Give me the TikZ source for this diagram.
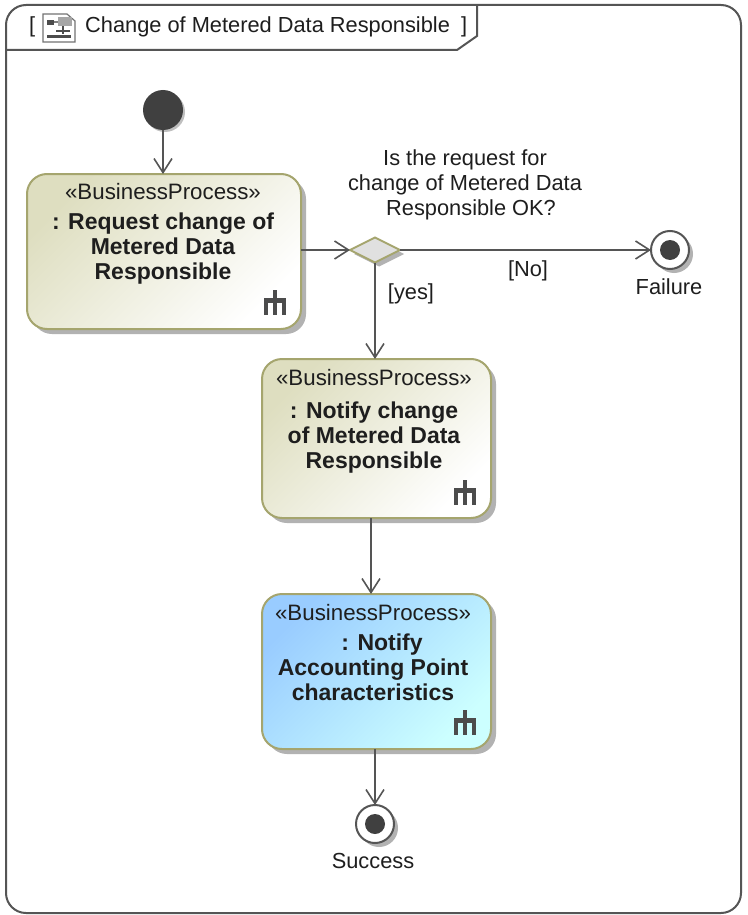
\documentclass[tikz,border=0pt]{standalone}
\usepackage{fontspec}
\setmainfont{Liberation Sans}
\usetikzlibrary{positioning, arrows.meta, shapes.geometric, shadows}

\definecolor{lineGray}{HTML}{555555}
\definecolor{olive}{HTML}{A5A56E}
\definecolor{textDark}{HTML}{1E1E1E}
\definecolor{tanDark}{HTML}{DEDEC0}
\definecolor{blueDark}{HTML}{99CCFF}
\definecolor{blueLight}{HTML}{CCFFFF}

\newcommand{\stereo}[1]{{\fontsize{22.3}{25}\selectfont #1}}
\newcommand{\actname}[1]{{\fontsize{23}{25}\selectfont\bfseries #1}}

\begin{document}
\begin{tikzpicture}[x=1pt,y=-1pt]
  \tikzset{ActionStyle/.style = {
    shape         = rectangle,
    rounded corners = 20pt,
    draw          = olive,
    line width    = 2pt,
    minimum width = 229pt,
    inner sep     = 0pt,
    outer sep     = 0pt,
    general shadow = {fill=black!30, shadow xshift=5pt, shadow yshift=-5pt}
    }
  }
  \tikzset{TanStyle/.style = {
    ActionStyle,
    left color    = tanDark,
    right color   = white,
    shading angle = 45
    }
  }
  \tikzset{BlueStyle/.style = {
    ActionStyle,
    left color    = blueDark,
    right color   = blueLight,
    shading angle = 45
    }
  }
  \tikzset{ActionText/.style = {
    anchor        = north,
    align         = center,
    inner sep     = 0pt,
    text          = textDark,
    font          = \fontsize{22}{25}\selectfont
    }
  }
  \tikzset{LabelStyle/.style = {
    inner sep     = 0pt,
    align         = center,
    text          = textDark,
    font          = \fontsize{21.8}{25}\selectfont
    }
  }
  \tikzset{EdgeStyle/.style = {
    draw          = lineGray,
    line width    = 2pt,
    -{Straight Barb[length=14pt,width=18pt,line width=1.6pt]}
    }
  }
  \tikzset{FinalStyle/.style = {
    shape         = circle,
    draw          = lineGray,
    fill          = white,
    line width    = 2pt,
    minimum size  = 38pt,
    inner sep     = 0pt,
    outer sep     = 0pt,
    general shadow = {fill=black!30, shadow xshift=4pt, shadow yshift=-4pt}
    }
  }
  \tikzset{DotStyle/.style = {
    shape         = circle,
    fill          = black!75,
    minimum size  = 20pt,
    inner sep     = 0pt
    }
  }
  \tikzset{rake/.pic = {
    \fill[black!70] (-2,-12) rectangle (2,13);
    \fill[black!70] (-11,-4) rectangle (11,1);
    \fill[black!70] (-11,-4) rectangle (-7,13);
    \fill[black!70] (7,-4) rectangle (11,13);
    }
  }

  \useasboundingbox (0,0) rectangle (747,915);
  \fill[white] (0,0) rectangle (747,915);

  % frame and name tab
  \draw[draw=lineGray, line width=2pt, rounded corners=20pt] (6,913) -- (6,5) -- (741,5) -- (741,913) -- cycle;
  \draw[draw=lineGray, line width=2pt] (6,50) -- (457,50) -- (477,36) -- (477,5);
  \node[LabelStyle, anchor=west](Br1) at (29,27) {[};
  \node[LabelStyle, anchor=west](Title) at (85,27) {Change of Metered Data Responsible};
  \node[LabelStyle, anchor=west](Br2) at (461,27) {]};

  % activity icon of the tab
  \draw[draw=black!55, fill=white, line width=1.2pt] (43,14) -- (67,14) -- (75,21) -- (75,42) -- (43,42) -- cycle;
  \fill[black!70] (47,20) rectangle (54,25);
  \fill[black!50] (54,21.5) rectangle (58,23.5);
  \fill[black!35] (58,17) rectangle (72,26);
  \fill[black!70] (62,26) rectangle (64,34);
  \fill[black!70] (56,30) rectangle (70,32);
  \fill[black!70] (47,35) rectangle (71,38);

  \node[shape=circle, fill=black!75, minimum size=40pt, inner sep=0pt, general shadow={fill=black!25, shadow xshift=2pt, shadow yshift=-2pt}](I1) at (163,110) {};

  \node[TanStyle, minimum width=274pt, minimum height=155pt](B1) at (164,251.5) {};
  \node[TanStyle, minimum height=159pt](B2) at (376.5,438.5) {};
  \node[BlueStyle, minimum height=155pt](B3) at (376.5,671.5) {};

  \node[ActionText](T1) at (163,183.5) {\stereo{«BusinessProcess»}\\[5pt]\actname{: Request change of}\\\actname{Metered Data}\\\actname{Responsible}};
  \node[ActionText](T2) at (374,369) {\stereo{«BusinessProcess»}\\[8pt]\actname{: Notify change}\\\actname{of Metered Data}\\\actname{Responsible}};
  \node[ActionText](T3) at (373,604) {\stereo{«BusinessProcess»}\\[5pt]\hspace*{18pt}\actname{: Notify}\\\actname{Accounting Point}\\\actname{characteristics}};

  \pic at (275,302) {rake};
  \pic at (465,492) {rake};
  \pic at (465,722) {rake};

  \node[shape=diamond, draw=olive, fill=black!12, line width=2pt, minimum width=50pt, minimum height=25pt, inner sep=0pt, outer sep=0pt, general shadow={fill=black!30, shadow xshift=4pt, shadow yshift=-4pt}](D1) at (375,250) {};

  \node[FinalStyle](F1) at (670,250) {};
  \node[DotStyle](F1dot) at (F1) {};
  \node[FinalStyle](F2) at (375,824) {};
  \node[DotStyle](F2dot) at (F2) {};

  \draw[EdgeStyle](I1) to (I1 |- B1.north);
  \draw[EdgeStyle](B1.east |- D1) to (D1);
  \draw[EdgeStyle](D1) to (F1);
  \draw[EdgeStyle](D1) to (D1 |- B2.north);
  \draw[EdgeStyle]([xshift=-5.5pt]B2.south) to ([xshift=-5.5pt]B3.north);
  \draw[EdgeStyle](F2 |- B3.south) to (F2);

  \node[LabelStyle](Q1) at (465,184.5) {Is the request for\\change of Metered Data\\\ \ Responsible OK?};
  \node[LabelStyle](L1) at (411,294) {[yes]};
  \node[LabelStyle](L2) at (528,271) {[No]};
  \node[LabelStyle](L3) at (669,287) {Failure};
  \node[LabelStyle](L4) at (373,861) {Success};
\end{tikzpicture}
\end{document}
